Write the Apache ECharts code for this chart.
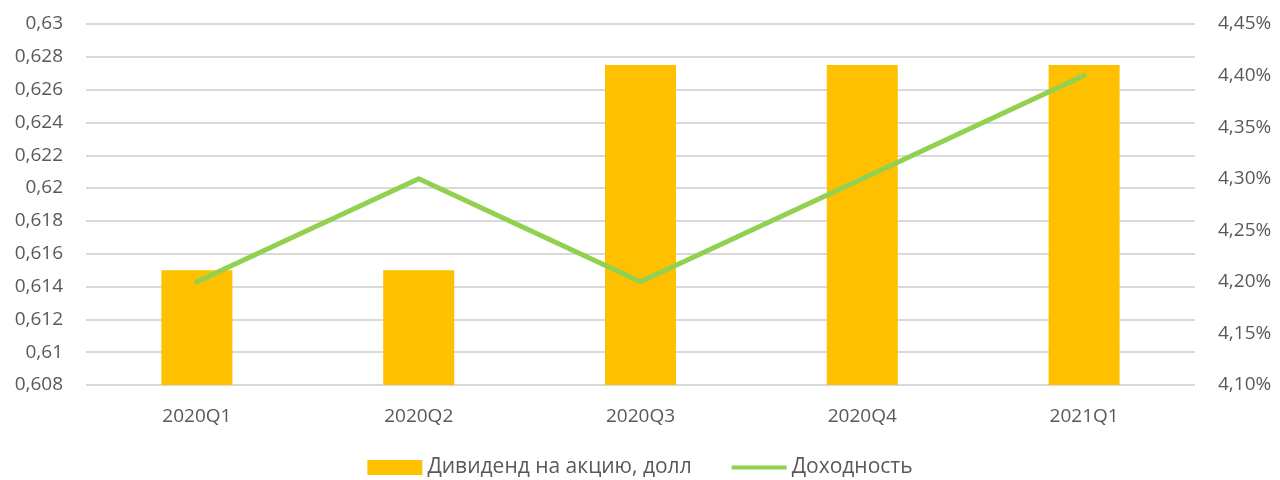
<!DOCTYPE html>
<html>
<head>
<meta charset="utf-8">
<script src="https://cdn.jsdelivr.net/npm/echarts@6/dist/echarts.min.js"></script>
<style>html,body{margin:0;padding:0;background:#fff}#c{width:1280px;height:480px}</style>
</head>
<body>
<div id="c"></div>
<script>
const categories = ['2020Q1', '2020Q2', '2020Q3', '2020Q4', '2021Q1'];
const dividend = [0.615, 0.615, 0.6275, 0.6275, 0.6275];
const yieldPct = [4.20, 4.30, 4.20, 4.30, 4.40];
const seriesNames = ['Дивиденд на акцию, долл', 'Доходность'];

const font = '"Open Sans", "Noto Sans", sans-serif';
const txt = '#595959';
const chart = echarts.init(document.getElementById('c'));
chart.setOption({
  animation: false,
  textStyle: { fontFamily: font },
  grid: { left: 86, right: 85, top: 24, bottom: 95 },
  legend: {
    top: 457, left: 'center', itemGap: 40, padding: 0,
    itemWidth: 55, itemHeight: 15,
    textStyle: { color: txt, fontSize: 21, fontFamily: font },
    data: [
      { name: seriesNames[0], icon: 'rect' },
      { name: seriesNames[1],
        icon: 'path://M0,0L0.01,0L0,0.01Z M0,5.5L57,5.5L57,9.5L0,9.5Z M57,15L56.99,15L57,14.99Z' }
    ]
  },
  xAxis: {
    type: 'category', data: categories,
    axisLine: { show: false }, axisTick: { show: false },
    axisLabel: { color: txt, fontSize: 19, margin: 22, fontFamily: font }
  },
  yAxis: [
    {
      type: 'value', min: 0.608, max: 0.63, interval: 0.002,
      axisLine: { show: false }, axisTick: { show: false },
      splitLine: { lineStyle: { color: '#D9D9D9', width: 2 } },
      axisLabel: {
        color: txt, fontSize: 19, margin: 23, fontFamily: font,
        formatter: v => String(parseFloat(v.toFixed(4))).replace('.', ',')
      }
    },
    {
      type: 'value', min: 4.1, max: 4.45, interval: 0.05,
      axisLine: { show: false }, axisTick: { show: false },
      splitLine: { show: false },
      axisLabel: {
        color: txt, fontSize: 19, margin: 23, fontFamily: font,
        formatter: v => v.toFixed(2).replace('.', ',') + '%'
      }
    }
  ],
  series: [
    {
      name: seriesNames[0], type: 'bar', data: dividend, barWidth: 71,
      itemStyle: { color: '#FFC000' }
    },
    {
      name: seriesNames[1], type: 'line', yAxisIndex: 1, data: yieldPct,
      showSymbol: false, symbol: 'none',
      lineStyle: { color: '#92D050', width: 5, cap: 'round', join: 'round' },
      itemStyle: { color: '#92D050' }
    }
  ]
});
</script>
</body>
</html>
